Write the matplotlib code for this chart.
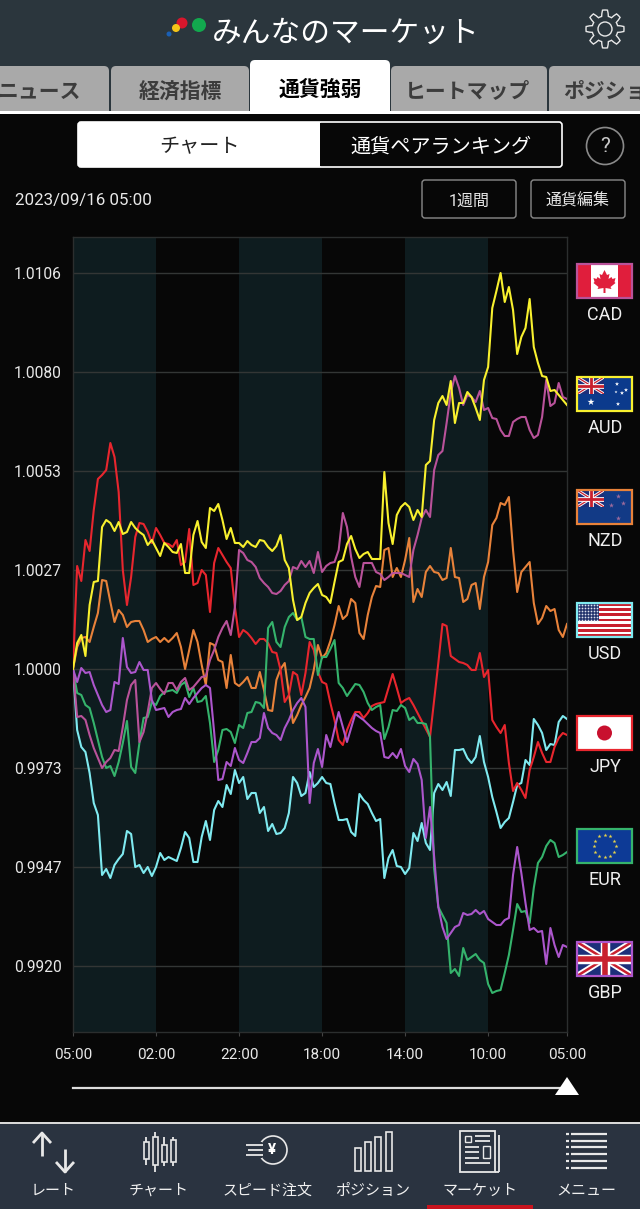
import numpy as np
import matplotlib
matplotlib.use('Agg')
import matplotlib.pyplot as plt
from matplotlib.patches import Rectangle, FancyBboxPatch, Circle, Polygon

plt.rcParams['font.family'] = ['Roboto', 'Noto Sans CJK JP', 'DejaVu Sans']

# Strength offsets from 1.0000, one value per hour, in 1/99 of a grid step
jpy = [0,103,88,129,118,159,190,194,199,226, 212,177,99,64,92,132,146,145,137,126,
       141,134,126,125,122,129,104,107,140,84, 86,99,94,57,106,121,114,107,101,62,
       32,39,36,31,25,30,30,26,17,16, -1,-33,-26,-3,-6,-26,-4,27,19,
       -3,-13,-15,-34,-51,-71,-76,-61,-51,-43, -43,-49,-44,-37,-35,-34,-33,-19,-5,-19,
       -34,-31,-29,-36,-44,-52,-60,-68,-31,6, 45,43,13,10,7,6,4,-1,-1,16,
       -8,-1,-51,-58,-64,-56,-94,-122,-114,-121, -129,-101,-88,-73,-84,-93,-93,-78,-69,-64, -66]
aud = [0,26,34,13,64,87,88,142,149,146, 138,147,135,137,147,141,137,134,124,129,
       121,113,126,122,117,116,125,96,96,134, 148,127,121,161,158,165,149,130,141,126,
       126,122,128,124,122,129,128,122,118,123, 134,109,101,69,49,52,66,76,81,
       85,74,72,66,87,107,109,125,133,120, 111,115,117,110,110,110,197,146,125,154,
       162,166,162,149,159,152,204,208,249,266, 273,264,288,246,266,266,277,272,261,249,
       289,302,361,378,396,367,382,359,315,332, 341,370,322,306,293,292,278,279,274,269, 264]
nzd = [0,22,31,32,27,42,56,89,88,67, 47,59,54,42,47,48,48,39,27,30,
       32,27,31,27,31,36,22,0,19,39, 27,4,-16,26,24,9,7,-19,14,-14,
       -17,-13,-8,-19,-19,-3,-21,-41,-42,-11, 0,6,-24,-54,-46,-36,-28,-19,-1,
       24,11,16,28,44,63,50,54,70,66, 36,30,54,72,83,82,119,121,92,101,
       92,109,131,67,80,72,97,103,97,96, 89,91,121,92,91,67,70,84,86,60,
       92,107,144,151,166,164,172,119,77,97, 102,107,66,45,51,63,58,60,39,32, 45]
cad = [0,-48,-47,-51,-66,-79,-89,-99,-93,-89, -81,-82,-58,-31,-16,-11,-73,-63,-43,-19,
       -14,-20,-25,-14,-14,-21,-13,-9,-21,-18, -13,-8,-7,9,19,32,41,48,34,62,
       119,116,109,107,102,91,86,82,76,75, 78,84,88,102,100,108,102,108,96,
       117,97,103,106,107,119,156,142,112,92, 82,106,106,106,97,95,89,92,96,96,
       96,94,92,119,134,151,159,152,199,214, 218,246,276,293,281,264,274,272,267,278,
       259,261,251,250,239,233,233,247,250,252, 252,239,231,234,252,289,263,266,286,272, 270]
eur = [0,-24,-26,-36,-39,-54,-71,-88,-99,-97, -107,-93,-74,-52,-98,-104,-74,-49,-48,-33,
       -36,-27,-23,-22,-21,-24,-16,-13,-28,-19, -33,-32,-27,-54,-93,-81,-61,-60,-63,-74,
       -56,-59,-44,-43,-33,-34,-39,41,47,27, 22,42,52,56,49,52,32,30,30,
       -6,12,12,20,29,-14,-19,-27,-21,-15, -16,-23,-34,-41,-38,-36,-70,-58,-41,-42,
       -36,-39,-51,-48,-54,-54,-55,-68,-200,-238, -246,-254,-304,-300,-307,-279,-291,-288,-285,-291,
       -294,-315,-324,-322,-321,-304,-286,-261,-235,-243, -242,-254,-219,-194,-188,-177,-171,-174,-188,-186, -183]
usd = [0,-61,-78,-83,-104,-134,-146,-206,-200,-209, -196,-190,-185,-162,-165,-198,-196,-204,-198,-207,
       -198,-184,-191,-188,-190,-192,-179,-163,-169,-193, -193,-168,-152,-171,-141,-132,-138,-116,-125,-101,
       -114,-108,-130,-124,-124,-144,-138,-162,-155,-165, -164,-159,-144,-108,-114,-127,-124,-103,-118,
       -114,-108,-114,-115,-134,-151,-151,-150,-163,-167, -125,-131,-135,-144,-152,-150,-209,-189,-181,-197,
       -198,-205,-199,-164,-172,-154,-174,-181,-124,-115, -121,-113,-127,-81,-81,-80,-89,-94,-88,-67,
       -93,-108,-128,-143,-159,-153,-149,-133,-116,-114, -91,-96,-50,-56,-64,-81,-75,-76,-53,-47, -50]
gbp = [0,-13,1,-4,-3,-16,-26,-36,-43,-41, -13,-15,31,2,-4,-3,7,-1,-1,-31,
       -41,-40,-39,-48,-43,-41,-40,-29,-35,-29, -24,-19,-16,-19,-63,-111,-110,-93,-97,-79,
       -91,-94,-84,-73,-73,-69,-44,-59,-64,-66, -71,-59,-51,-41,-34,-29,-38,-134,-94,
       -80,-98,-66,-78,-60,-43,-58,-73,-59,-45, -48,-51,-55,-59,-62,-64,-88,-89,-84,-89,
       -80,-97,-103,-90,-95,-111,-169,-138,-188,-238, -258,-270,-264,-258,-256,-244,-246,-245,-241,-245,
       -242,-250,-253,-256,-256,-251,-249,-206,-178,-204, -234,-261,-259,-263,-262,-295,-259,-276,-288,-276, -278]

y_labels = ['1.0106', '1.0080', '1.0053', '1.0027', '1.0000', '0.9973', '0.9947', '0.9920']
y_steps = [4, 3, 2, 1, 0, -1, -2, -3]
x_labels = ['05:00', '02:00', '22:00', '18:00', '14:00', '10:00', '05:00']
x_hours = [0, 20, 40, 60, 80, 100, 119]
tabs = ['経済指標', '通貨強弱', 'ヒートマップ']
nav_labels = ['レート', 'チャート', 'スピード注文', 'ポジション', 'マーケット', 'メニュー']
currencies = ['CAD', 'AUD', 'NZD', 'USD', 'JPY', 'EUR', 'GBP']

STEP = 0.00265
colors = {'CAD': '#b9529a', 'AUD': '#f8f02e', 'NZD': '#e8823a', 'USD': '#7feaf0',
          'JPY': '#e8262e', 'EUR': '#35b36c', 'GBP': '#ac56cc'}
BG = '#070707'
BAR = '#2b363d'
FLAG_BLUE = '#0b3a8c'


def to_value(series):
    return 1 + np.array(series) * STEP / 99


def box(ax, x0, y0, x1, y1, face, edge='none', lw=1, r=4, z=2):
    ax.add_patch(FancyBboxPatch((x0 + r, y0 + r), x1 - x0 - 2 * r, y1 - y0 - 2 * r,
                                boxstyle='round,pad=%d,rounding_size=%d' % (r, r),
                                fc=face, ec=edge, lw=lw, zorder=z))


def union_jack(ax, x, y, w, h):
    ax.add_patch(Rectangle((x, y), w, h, fc='#1d2f7a', zorder=4))
    clip = Rectangle((x, y), w, h, transform=ax.transData)
    pieces = [([x, x + w], [y, y + h], 'white', 2.2 * h / 17), ([x, x + w], [y + h, y], 'white', 2.2 * h / 17),
              ([x, x + w], [y, y + h], '#c8202e', 0.9 * h / 17), ([x, x + w], [y + h, y], '#c8202e', 0.9 * h / 17),
              ([x + w / 2] * 2, [y, y + h], 'white', 3.4 * h / 17), ([x, x + w], [y + h / 2] * 2, 'white', 3.4 * h / 17),
              ([x + w / 2] * 2, [y, y + h], '#c8202e', 2 * h / 17), ([x, x + w], [y + h / 2] * 2, '#c8202e', 2 * h / 17)]
    for px, py, c, lw in pieces:
        line, = ax.plot(px, py, color=c, lw=lw, solid_capstyle='butt', zorder=5)
        line.set_clip_path(clip)


def draw_flag(ax, code, x, y):
    w, h = 55, 34
    if code == 'CAD':
        ax.add_patch(Rectangle((x, y), w, h, fc='#e01e3c', zorder=4))
        ax.add_patch(Rectangle((x + 14, y), 27, h, fc='white', zorder=5))
        cx, cy = x + 27.5, y + 17
        leaf = [(0, -11), (2.5, -6), (5, -7), (4, -2), (7, -4), (8, -2), (11, -3), (10, 1), (11, 2),
                (6, 6), (7, 8), (1, 7), (1, 12), (-1, 12), (-1, 7), (-7, 8), (-6, 6), (-11, 2),
                (-10, 1), (-11, -3), (-8, -2), (-7, -4), (-4, -2), (-5, -7), (-2.5, -6)]
        ax.add_patch(Polygon([(cx + a, cy + b) for a, b in leaf], fc='#e01e3c', zorder=6))
    elif code in ('AUD', 'NZD'):
        ax.add_patch(Rectangle((x, y), w, h, fc=FLAG_BLUE if code == 'AUD' else '#123a86', zorder=4))
        union_jack(ax, x, y, 27, 17)
        if code == 'AUD':
            sx = [14, 40, 45, 41, 39, 49]
            sy = [25, 7, 16, 27, 15, 13]
            ax.scatter([x + a for a in sx], [y + b for b in sy], s=[28, 10, 10, 10, 5, 10],
                       marker='*', c='white', lw=0, zorder=6)
        else:
            sx = [41, 34, 46, 41]
            sy = [6, 15, 13, 28]
            ax.scatter([x + a for a in sx], [y + b for b in sy], s=14, marker='*', c='#9c6a9c', lw=0, zorder=6)
    elif code == 'USD':
        for i in range(13):
            c = '#c8202e' if i % 2 == 0 else 'white'
            ax.add_patch(Rectangle((x, y + i * h / 13), w, h / 13, fc=c, zorder=4))
        ax.add_patch(Rectangle((x, y), 22, 18.3, fc='#26366e', zorder=5))
        gx, gy = np.meshgrid(np.arange(x + 2, x + 22, 3), np.arange(y + 2, y + 18, 3))
        ax.scatter(gx.ravel(), gy.ravel(), s=1.5, c='#dfe3f0', lw=0, zorder=6)
    elif code == 'JPY':
        ax.add_patch(Rectangle((x, y), w, h, fc='white', zorder=4))
        ax.add_patch(Circle((x + w / 2, y + h / 2), 7.5, fc='#c8102e', zorder=5))
    elif code == 'EUR':
        ax.add_patch(Rectangle((x, y), w, h, fc='#0d3a96', zorder=4))
        ang = np.arange(12) * np.pi / 6
        ax.scatter(x + w / 2 + 11 * np.cos(ang), y + h / 2 + 11 * np.sin(ang), s=9, marker='*',
                   c='#e8d44a', lw=0, zorder=5)
    elif code == 'GBP':
        union_jack(ax, x, y, w, h)
    ax.add_patch(Rectangle((x, y), w, h, fc='none', ec=colors[code], lw=1.6, zorder=8))


fig = plt.figure(figsize=(6.4, 12.09), dpi=100, facecolor=BG)

# Screen furniture, drawn in pixel coordinates
ui = fig.add_axes([0, 0, 1, 1])
ui.set_xlim(0, 640)
ui.set_ylim(1209, 0)
ui.axis('off')
ui.set_autoscale_on(False)

# Header
ui.add_patch(Rectangle((0, 0), 640, 114, fc=BAR, zorder=1))
ui.text(346, 33, 'みんなのマーケット', color='white', fontsize=21.4, ha='center', va='center',
        family='Noto Sans CJK JP')
for cx, cy, r, c in [(199, 25, 7, '#12a84e'), (182, 23, 5.5, '#d8162c'), (176, 28, 4, '#f5c518'), (169, 34, 2.5, '#1a5fb4')]:
    ui.add_patch(Circle((cx, cy), r, fc=c, zorder=3))

# Gear icon
gear_a = np.linspace(0, 2 * np.pi, 97)
gear_r = 16 + 3 * np.clip(3 * np.cos(8 * gear_a), -1, 1)
ui.add_patch(Polygon(np.c_[605 + gear_r * np.cos(gear_a), 29 + gear_r * np.sin(gear_a)],
                     fc='none', ec='#e8e8e8', lw=1.0, zorder=3))
ui.add_patch(Circle((605, 29), 7, fc='none', ec='#e8e8e8', lw=1.0, zorder=3))

# Tabs
for x0, x1 in [(-20, 109), (111, 249), (391, 547), (549, 700)]:
    box(ui, x0, 66, x1, 118, '#a9a9a9', r=5, z=2)
box(ui, 250, 60, 390, 118, 'white', r=5, z=3)
ui.add_patch(Rectangle((0, 111), 640, 3, fc='white', zorder=3))
ui.add_patch(Rectangle((0, 114), 640, 8, fc=BG, zorder=3))
tab_style = dict(fontsize=15, fontweight='bold', va='center', family='Noto Sans CJK JP', zorder=4)
ui.text(81, 91, 'ニュース', color='#3c3c3c', ha='right', **tab_style)
ui.text(180, 92, tabs[0], color='#3c3c3c', ha='center', **tab_style)
ui.text(320, 89, tabs[1], color='black', ha='center', **tab_style)
ui.text(468, 91, tabs[2], color='#3c3c3c', ha='center', **tab_style)
ui.text(563, 91, 'ポジション', color='#3c3c3c', ha='left', **tab_style)

# Segmented control
box(ui, 78, 122, 562, 167, BG, edge='white', lw=1.2, r=3, z=4)
box(ui, 78, 122, 322, 167, 'white', r=3, z=5)
ui.add_patch(Rectangle((320, 123), 10, 43, fc=BG, zorder=6))
ui.text(199, 147, 'チャート', color='#222222', fontsize=14.5, ha='center', va='center', zorder=7)
ui.text(441, 147, '通貨ペアランキング', color='white', fontsize=14.5, ha='center', va='center', zorder=7)
ui.add_patch(Circle((605, 146), 18.5, fc=BG, ec='#8a8a8a', lw=1.2, zorder=4))
ui.text(605, 147, '?', color='#c8c8c8', fontsize=15, ha='center', va='center', zorder=5)

# Date and buttons
ui.text(15, 201, '2023/09/16 05:00', color='#e8e8e8', fontsize=12.2, ha='left', va='center')
for x0, x1, label in [(422, 516, '1週間'), (531, 625, '通貨編集')]:
    box(ui, x0, 180, x1, 218, BG, edge='#8a8a8a', lw=1, r=3, z=3)
    ui.text((x0 + x1) / 2, 201, label, color='#e8e8e8', fontsize=11.5, ha='center', va='center', zorder=4)

# Flags and currency codes
for i, code in enumerate(currencies):
    y = 264 + i * 113
    draw_flag(ui, code, 577, y)
    ui.text(605, y + 51, code, color='#eeeeee', fontsize=13, ha='center', va='center')

# Slider
ui.plot([73, 567], [1088, 1088], color='#dddddd', lw=1.6, zorder=2)
ui.add_patch(Polygon([(567, 1077), (555, 1095), (579, 1095)], fc='white', zorder=3))

# Bottom navigation
ui.add_patch(Rectangle((0, 1122), 640, 87, fc='#2a3340', zorder=1))
ui.add_patch(Rectangle((0, 1122), 640, 2, fc='#d8d8d8', zorder=2))
ui.add_patch(Rectangle((427, 1205), 106, 4, fc='#c8141e', zorder=3))
for cx, label in zip([53, 159, 267, 373, 480, 586], nav_labels):
    ui.text(cx, 1191, label, color='#f0f0f0', fontsize=10.8, ha='center', va='center', zorder=3)
icon = dict(color='#e8e8e8', lw=1.3, zorder=3, solid_capstyle='butt')
ui.plot([42, 42], [1133, 1156], **dict(icon, lw=2))
ui.plot([33, 42, 51], [1143, 1133, 1143], **dict(icon, lw=2))
ui.plot([65, 65], [1149, 1172], **dict(icon, lw=2))
ui.plot([56, 65, 74], [1162, 1172, 1162], **dict(icon, lw=2))
candles = [(146, 1137, 1165, 1142, 1159), (155, 1132, 1172, 1137, 1165), (164, 1137, 1166, 1145, 1162), (173, 1137, 1166, 1140, 1162)]
for cx, w0, w1, b0, b1 in candles:
    ui.plot([cx, cx], [w0, b0], **icon)
    ui.plot([cx, cx], [b1, w1], **icon)
    ui.add_patch(Rectangle((cx - 2.5, b0), 5, b1 - b0, fc='none', ec='#e8e8e8', lw=1.2, zorder=3))
ui.add_patch(Circle((273, 1150), 14, fc='none', ec='#e8e8e8', lw=1.2, zorder=3))
ui.add_patch(Rectangle((244, 1142), 18, 16, fc='#2a3340', zorder=3.5))
ui.text(272, 1150, '¥', color='white', fontsize=11, fontweight='bold', ha='center', va='center', zorder=4)
for yy, x0 in [(1145, 246), (1150, 248), (1155, 246)]:
    ui.plot([x0, 263], [yy, yy], **dict(icon, zorder=4))
for x0, top in [(355, 1148), (365, 1142), (375, 1137), (386, 1132)]:
    ui.add_patch(Rectangle((x0, top), 6, 1171 - top, fc='none', ec='#e8e8e8', lw=1.2, zorder=3))
ui.add_patch(Rectangle((460, 1131), 35, 41, fc='none', ec='#e8e8e8', lw=1.3, zorder=3))
ui.plot([499, 499], [1135, 1172], **icon)
ui.plot([495, 499], [1172, 1172], **icon)
ui.add_patch(Rectangle((465, 1136), 6, 6, fc='none', ec='#e8e8e8', lw=1, zorder=3))
ui.add_patch(Rectangle((483, 1146), 7, 12, fc='none', ec='#e8e8e8', lw=1, zorder=3))
for yy, x1 in [(1136, 490), (1141, 490), (1147, 479), (1152, 479), (1158, 479), (1163, 490)]:
    ui.plot([465 if yy > 1145 else 475, x1], [yy, yy], **icon)
for yy in [1134, 1141, 1147, 1154, 1161, 1168]:
    ui.plot([571, 607], [yy, yy], **dict(icon, lw=1.6))
    ui.plot([566, 569], [yy, yy], **dict(icon, lw=1.6))

# Chart area 73..567 x 237..1032 px
ax = fig.add_axes([73 / 640, 1 - 1032 / 1209, 494 / 640, 795 / 1209], facecolor=BG)
x = np.arange(len(jpy))
for start in [0, 40, 80]:
    ax.axvspan(start, start + 20, color='#0e1c1f', lw=0, zorder=0)
y_ticks = [1 + n * STEP for n in y_steps]
for tick in y_ticks:
    ax.axhline(tick, color='#333635', lw=1, zorder=1)
for series, code in [(nzd, 'NZD'), (usd, 'USD'), (jpy, 'JPY'), (eur, 'EUR'), (cad, 'CAD'), (gbp, 'GBP'), (aud, 'AUD')]:
    ax.plot(x, to_value(series), color=colors[code], lw=1.5, zorder=3)
ax.set_xlim(0, 119)
ax.set_ylim(to_value(-363), to_value(432))
ax.set_yticks(y_ticks, y_labels)
ax.set_xticks(x_hours, x_labels)
ax.tick_params(axis='y', length=0, pad=8, labelsize=11.2, labelcolor='#e8e8e8')
ax.tick_params(axis='x', length=3, color='#444444', pad=8.5, labelsize=11, labelcolor='#e8e8e8')
for side in ax.spines.values():
    side.set_color('#2b2e2e')
    side.set_linewidth(1)

plt.savefig('out.png', dpi=100, facecolor=BG)
